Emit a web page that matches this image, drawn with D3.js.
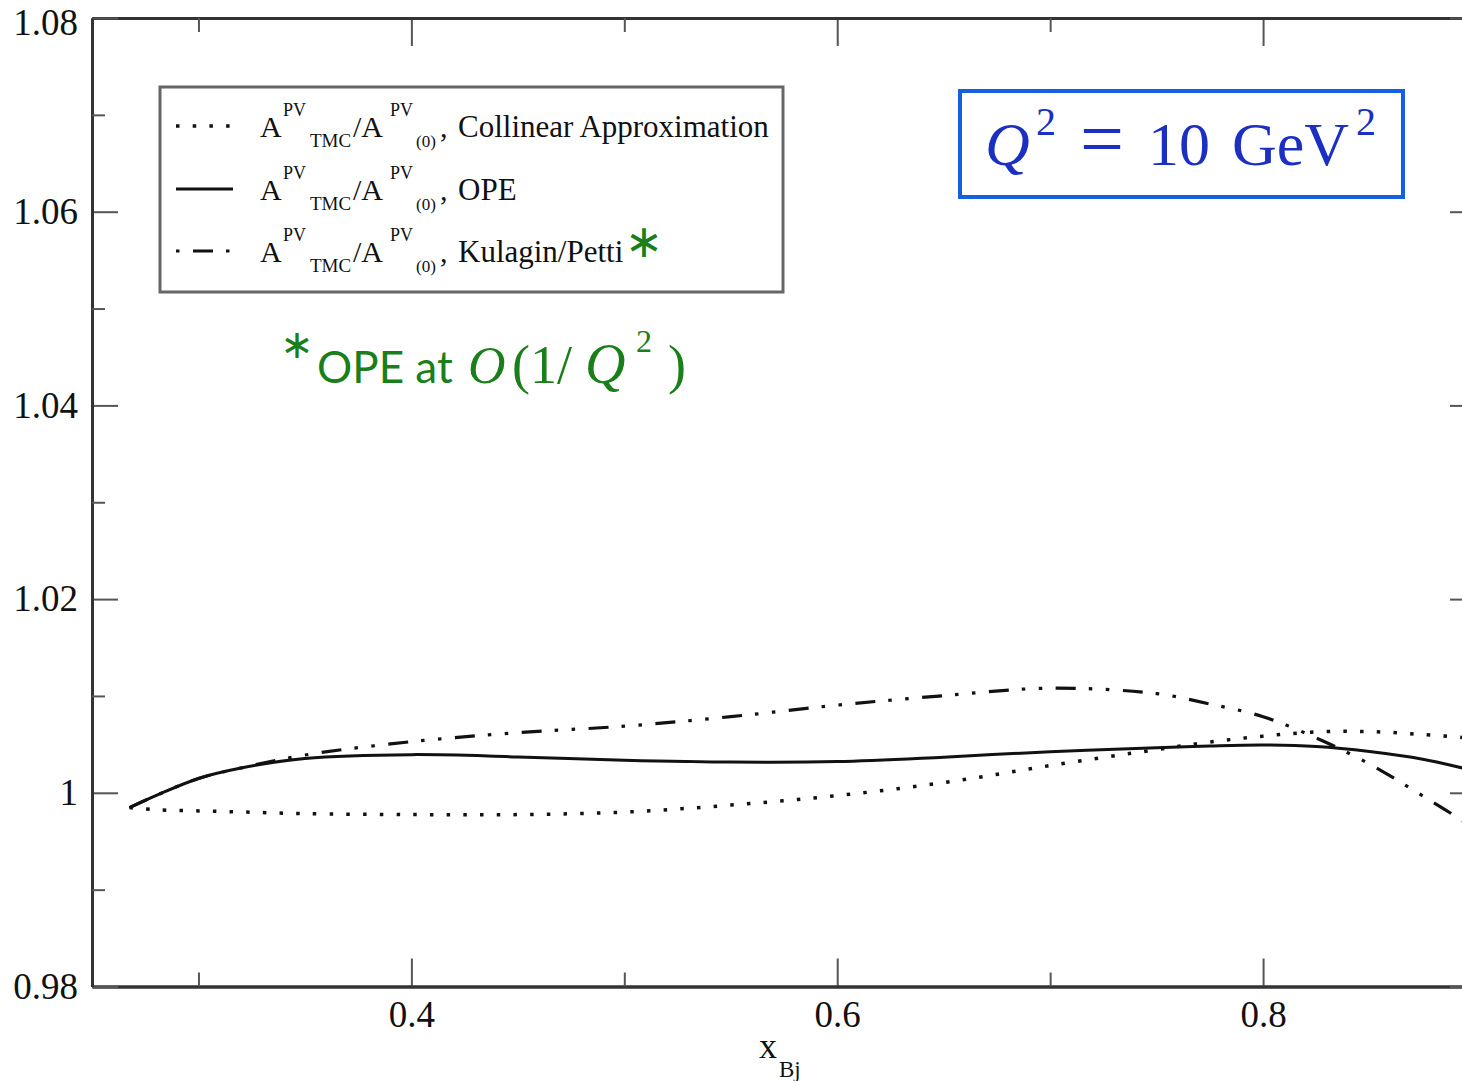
<!DOCTYPE html>
<html>
<head>
<meta charset="utf-8">
<script src="https://cdn.jsdelivr.net/npm/d3@7"></script>
<style>
  html, body { margin: 0; padding: 0; background: #fff; }
  svg { display: block; }
</style>
</head>
<body>
<script>
// ---------- data ----------
const xVals     = [0.2676, 0.28, 0.30, 0.32, 0.35, 0.40, 0.45, 0.50, 0.55, 0.60, 0.65, 0.70, 0.75, 0.775, 0.80, 0.825, 0.85, 0.875, 0.90];
const collinear = [0.99847, 0.99825, 0.99813, 0.99802, 0.99785, 0.99775, 0.99775, 0.99801, 0.99873, 0.99971, 1.00105, 1.00281, 1.00446, 1.00524, 1.00585, 1.00628, 1.00632, 1.00602, 1.00559];
const ope       = [0.99847, 0.99971, 1.00148, 1.00256, 1.00354, 1.00394, 1.00370, 1.00337, 1.00317, 1.00322, 1.00368, 1.00425, 1.00466, 1.00484, 1.00494, 1.00478, 1.00426, 1.00347, 1.00222];
const kulagin   = [0.99847, 0.99971, 1.00148, 1.00256, 1.00390, 1.00528, 1.00621, 1.00688, 1.00786, 1.00905, 1.01003, 1.01080, 1.01024, 1.00917, 1.00786, 1.00566, 1.00297, 0.99968, 0.99626];

const xMajor = [0.4, 0.6, 0.8];
const xMajorLabels = ["0.4", "0.6", "0.8"];
const xMinor = [0.3, 0.5, 0.7];
const yMajor = [0.98, 1.00, 1.02, 1.04, 1.06, 1.08];
const yMajorLabels = ["0.98", "1", "1.02", "1.04", "1.06", "1.08"];
const yMinor = [0.99, 1.01, 1.03, 1.05, 1.07];

const legendLabels = ["Collinear Approximation", "OPE", "Kulagin/Petti"];

// ---------- layout ----------
const W = 1462, H = 1081;
const L = 92, R = 1476, T = 18, B = 986.5;

const svg = d3.select("body").append("svg").attr("width", W).attr("height", H);

const x = d3.scaleLinear().domain([0.25, 0.9]).range([L, R]);
const y = d3.scaleLinear().domain([0.98, 1.08]).range([B, T]);

const tickFont = "'Liberation Serif', 'Times New Roman', serif";

// clip
svg.append("defs").append("clipPath").attr("id", "plotclip")
  .append("rect").attr("x", L).attr("y", T).attr("width", R - L).attr("height", B - T);

// ---------- axes ----------
function styleAxis(g) {
  g.select(".domain").attr("stroke", "#333").attr("stroke-width", 3);
  g.selectAll(".tick line").attr("stroke", "#555").attr("stroke-width", 2);
  g.selectAll(".tick text").attr("fill", "#111").style("font-family", tickFont).style("font-size", "37px");
}

// bottom major
svg.append("g").attr("transform", `translate(0,${B})`)
  .call(d3.axisBottom(x).tickValues(xMajor).tickFormat((d, i) => xMajorLabels[i])
    .tickSizeInner(-28).tickSizeOuter(0).tickPadding(14))
  .call(styleAxis);
// bottom minor
svg.append("g").attr("transform", `translate(0,${B})`)
  .call(d3.axisBottom(x).tickValues(xMinor).tickFormat("").tickSizeInner(-14).tickSizeOuter(0))
  .call(styleAxis);
// top
svg.append("g").attr("transform", `translate(0,${T})`)
  .call(d3.axisTop(x).tickValues(xMajor).tickFormat("").tickSizeInner(-28).tickSizeOuter(0))
  .call(styleAxis);
svg.append("g").attr("transform", `translate(0,${T})`)
  .call(d3.axisTop(x).tickValues(xMinor).tickFormat("").tickSizeInner(-14).tickSizeOuter(0))
  .call(styleAxis);
// left
const leftAxis = svg.append("g").attr("transform", `translate(${L},0)`)
  .call(d3.axisLeft(y).tickValues(yMajor).tickFormat((d, i) => yMajorLabels[i])
    .tickSizeInner(-26).tickSizeOuter(0).tickPadding(14))
  .call(styleAxis);
// keep the top label inside the page
leftAxis.selectAll(".tick text").filter(d => d === 1.08).attr("dy", "0.45em");
svg.append("g").attr("transform", `translate(${L},0)`)
  .call(d3.axisLeft(y).tickValues(yMinor).tickFormat("").tickSizeInner(-13).tickSizeOuter(0))
  .call(styleAxis);
// right
svg.append("g").attr("transform", `translate(${R},0)`)
  .call(d3.axisRight(y).tickValues(yMajor).tickFormat("").tickSizeInner(-26).tickSizeOuter(0))
  .call(styleAxis);
svg.append("g").attr("transform", `translate(${R},0)`)
  .call(d3.axisRight(y).tickValues(yMinor).tickFormat("").tickSizeInner(-13).tickSizeOuter(0))
  .call(styleAxis);

// x axis title
const xt = svg.append("text").attr("fill", "#111").style("font-family", tickFont);
xt.append("tspan").attr("x", 759).attr("y", 1058).style("font-size", "36px").text("x");
xt.append("tspan").attr("x", 779).attr("y", 1077).style("font-size", "23px").text("Bj");

// ---------- series ----------
const line = d3.line().x(d => x(d[0])).y(d => y(d[1])).curve(d3.curveCatmullRom.alpha(0.5));
const series = [
  { vals: collinear, dash: "3.5,13.2", width: 3.5 },
  { vals: ope, dash: null, width: 3 },
  { vals: kulagin, dash: "20,13,3.5,13.5,3.5,13.5", width: 3.2 }
];
const plot = svg.append("g").attr("clip-path", "url(#plotclip)");
series.forEach(s => {
  plot.append("path")
    .datum(xVals.map((xv, i) => [xv, s.vals[i]]))
    .attr("d", line)
    .attr("fill", "none")
    .attr("stroke", "#111")
    .attr("stroke-width", s.width)
    .attr("stroke-dasharray", s.dash);
});

// ---------- legend ----------
const lg = svg.append("g");
lg.append("rect").attr("x", 160).attr("y", 87).attr("width", 623).attr("height", 205)
  .attr("fill", "#fff").attr("stroke", "#666").attr("stroke-width", 3);

const legendRows = [
  { base: 137, dash: "3.5,13.2", offset: 0, width: 3.5 },
  { base: 200, dash: null, offset: 0, width: 3 },
  { base: 262, dash: "20,13,3.5,13.5,3.5,13.5", offset: 50, width: 3.2 }
];
legendRows.forEach((r, i) => {
  lg.append("line").attr("x1", 176).attr("x2", 233)
    .attr("y1", r.base - 11).attr("y2", r.base - 11)
    .attr("stroke", "#111").attr("stroke-width", r.width)
    .attr("stroke-dasharray", r.dash).attr("stroke-dashoffset", r.offset);
  const t = lg.append("text").attr("fill", "#111").style("font-family", tickFont);
  t.append("tspan").attr("x", 260).attr("y", r.base).style("font-size", "30px").text("A");
  t.append("tspan").attr("x", 283).attr("y", r.base - 21).style("font-size", "18px").text("PV");
  t.append("tspan").attr("x", 310).attr("y", r.base + 10).style("font-size", "19px").text("TMC");
  t.append("tspan").attr("x", 353).attr("y", r.base).style("font-size", "30px").text("/A");
  t.append("tspan").attr("x", 390).attr("y", r.base - 21).style("font-size", "18px").text("PV");
  t.append("tspan").attr("x", 416).attr("y", r.base + 10).style("font-size", "17px").text("(0)");
  t.append("tspan").attr("x", 440).attr("y", r.base).style("font-size", "30px").text(",");
  t.append("tspan").attr("x", 458).attr("y", r.base).style("font-size", "31px").text(legendLabels[i]);
});
// green asterisk in legend
svg.append("text").attr("x", 644).attr("y", 257).attr("text-anchor", "middle")
  .attr("fill", "#1a7f1a").style("font-family", "'DejaVu Sans', sans-serif").style("font-size", "46px")
  .text("\u2217");

// ---------- Q^2 box ----------
svg.append("rect").attr("x", 960).attr("y", 91).attr("width", 443).attr("height", 106)
  .attr("fill", "#fff").attr("stroke", "#1560e0").attr("stroke-width", 4);
const qc = "#1b2fc2";
const qt = svg.append("text").attr("fill", qc).style("font-family", tickFont);
qt.append("tspan").attr("x", 985).attr("y", 165).style("font-size", "62px").style("font-style", "italic").text("Q");
qt.append("tspan").attr("x", 1036).attr("y", 135).style("font-size", "40px").text("2");
qt.append("tspan").attr("x", 1080).attr("y", 165).style("font-size", "78px").text("=");
qt.append("tspan").attr("x", 1148).attr("y", 165).style("font-size", "62px").text("10");
qt.append("tspan").attr("x", 1232).attr("y", 165).style("font-size", "62px").text("GeV");
qt.append("tspan").attr("x", 1356).attr("y", 135).style("font-size", "40px").text("2");

// ---------- green annotation ----------
const gc = "#1a7f1a";
svg.append("text").attr("x", 297).attr("y", 358).attr("text-anchor", "middle")
  .attr("fill", gc).style("font-family", "'DejaVu Sans', sans-serif").style("font-size", "40px")
  .text("\u2217");
svg.append("text").attr("x", 317).attr("y", 383).attr("fill", gc)
  .style("font-family", "Lato, 'Open Sans', sans-serif").style("font-size", "44px")
  .text("OPE at");
const gm = svg.append("text").attr("fill", gc).style("font-family", tickFont);
gm.append("tspan").attr("x", 468).attr("y", 383).style("font-size", "52px").style("font-style", "italic").text("O");
gm.append("tspan").attr("x", 512).attr("y", 383).style("font-size", "54px").text("(1/");
gm.append("tspan").attr("x", 585).attr("y", 383).style("font-size", "56px").style("font-style", "italic").text("Q");
gm.append("tspan").attr("x", 636).attr("y", 352).style("font-size", "32px").text("2");
gm.append("tspan").attr("x", 668).attr("y", 383).style("font-size", "54px").text(")");
</script>
</body>
</html>
